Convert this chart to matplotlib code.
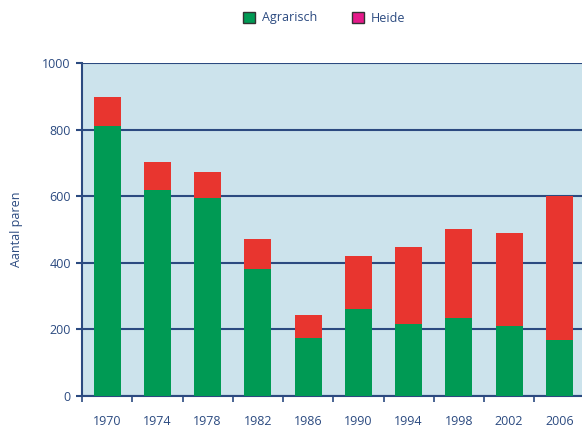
import matplotlib
matplotlib.use("Agg")
import matplotlib.pyplot as plt
import matplotlib.patches as mpatches
import numpy as np

years = ["1970", "1974", "1978", "1982", "1986", "1990", "1994", "1998", "2002", "2006"]
agrarisch = [810, 620, 595, 380, 175, 260, 217, 235, 211, 168]
totaal = [897, 702, 672, 471, 243, 420, 447, 503, 488, 600]
heide = [t - a for t, a in zip(totaal, agrarisch)]

navy = "#2B4A80"
green = "#009A54"
red = "#E8352F"
magenta = "#E5198A"
bg = "#CCE3EC"

plt.rcParams['font.family'] = ['Open Sans', 'DejaVu Sans']

fig = plt.figure(figsize=(5.82, 4.30), dpi=100)
ax = fig.add_axes([82/582, 1-396/430, 500/582, (396-63)/430])
ax.set_facecolor(bg)

x = np.arange(len(years))
w = 0.54
ax.bar(x, agrarisch, width=w, color=green, zorder=3)
ax.bar(x, heide, width=w, bottom=agrarisch, color=red, zorder=3)

ax.set_xlim(-0.5, 9.45)
ax.set_ylim(0, 1000)
ax.set_yticks([0, 200, 400, 600, 800, 1000])
ax.yaxis.grid(True, color=navy, linewidth=1.5, zorder=1)
ax.set_axisbelow(True)

ax.set_xticks(x)
ax.set_xticklabels(years)
ax.set_xticks(np.arange(-0.5, 9.5, 1.0), minor=True)
ax.tick_params(axis='x', which='major', length=0, pad=14, labelsize=9, labelcolor=navy)
ax.tick_params(axis='x', which='minor', length=4, width=1.2, color=navy, direction='out')
ax.tick_params(axis='y', length=4, width=1.5, color=navy, labelsize=9, labelcolor=navy, pad=4)

for s in ['top', 'right']:
    ax.spines[s].set_visible(False)
for s in ['left', 'bottom']:
    ax.spines[s].set_color(navy)
    ax.spines[s].set_linewidth(1.5)

ax.set_ylabel("Aantal paren", color=navy, fontsize=9, labelpad=14)

handles = [mpatches.Patch(facecolor=green, edgecolor="#333333", linewidth=1.0, label="Agrarisch"),
           mpatches.Patch(facecolor=magenta, edgecolor="#333333", linewidth=1.0, label="Heide")]
leg = fig.legend(handles=handles, loc='center', bbox_to_anchor=(324/582, 1-18/430), ncol=2,
                 frameon=False, fontsize=9, handlelength=1.0, handleheight=1.0,
                 handletextpad=0.5, columnspacing=2.8)
for t in leg.get_texts():
    t.set_color(navy)

fig.savefig("out.png", dpi=100)
